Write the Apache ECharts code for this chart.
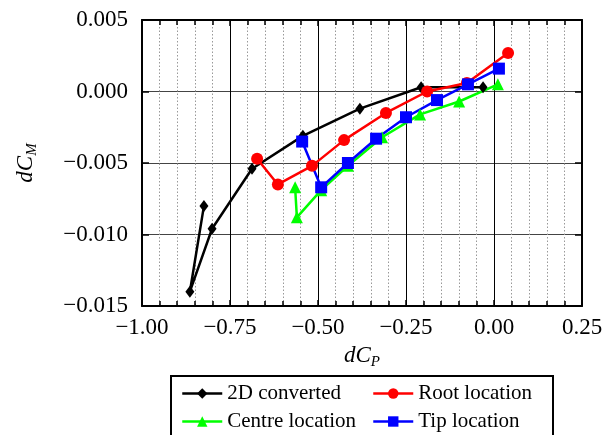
<!DOCTYPE html>
<html>
<head>
<meta charset="utf-8">
<script src="https://cdn.jsdelivr.net/npm/echarts@6/dist/echarts.min.js"></script>
<style>html,body{margin:0;padding:0;background:#fff}#c{width:616px;height:435px}</style>
</head>
<body>
<div id="c"></div>
<script>
// Data
const names = ['2D converted', 'Root location', 'Centre location', 'Tip location'];
const conv2dX = [-0.824, -0.864, -0.801, -0.6875, -0.543, -0.381, -0.207, -0.031];
const conv2dY = [-0.0080, -0.0140, -0.0096, -0.0054, -0.0031, -0.0012, 0.0003, 0.0003];
const rootX = [-0.673, -0.614, -0.517, -0.426, -0.307, -0.190, -0.077, 0.040];
const rootY = [-0.0047, -0.0065, -0.0052, -0.0034, -0.0015, 0.0000, 0.0006, 0.0027];
const centreX = [-0.565, -0.560, -0.491, -0.415, -0.318, -0.210, -0.099, 0.011];
const centreY = [-0.0067, -0.0088, -0.0069, -0.0052, -0.0032, -0.0016, -0.0007, 0.0005];
const tipX = [-0.545, -0.491, -0.415, -0.335, -0.250, -0.162, -0.074, 0.014];
const tipY = [-0.0035, -0.0067, -0.0050, -0.0033, -0.0018, -0.0006, 0.0005, 0.0016];
const xTicks = [-1.0, -0.75, -0.5, -0.25, 0.0, 0.25];
const yTicks = [-0.015, -0.010, -0.005, 0.000, 0.005];

const zip = (xs, ys) => xs.map((x, i) => [x, ys[i]]);
const fmt = (v, d) => (v < 0 ? '\u2212' : '') + Math.abs(v).toFixed(d);
const FONT = 'Liberation Serif';

const chart = echarts.init(document.getElementById('c'), null, {renderer: 'canvas'});
const axisLine = {show: true, onZero: false, lineStyle: {color: '#000', width: 2}};
const subRich = {
  i: {fontFamily: FONT, fontStyle: 'italic', fontSize: 23, lineHeight: 26, verticalAlign: 'top', color: '#000'},
  s: {fontFamily: FONT, fontStyle: 'italic', fontSize: 15, lineHeight: 16, padding: [11, 0, 0, 0], verticalAlign: 'top', color: '#000'}
};
const xBase = {
  type: 'value', min: xTicks[0], max: xTicks[xTicks.length - 1], interval: 0.25,
  axisLine: axisLine,
  axisTick: {show: true, inside: true, length: 6, lineStyle: {color: '#000', width: 1.5}},
  minorTick: {show: true, splitNumber: 5, length: 5, lineStyle: {color: '#000', width: 1.5}}
};
const yBase = {
  type: 'value', min: yTicks[0], max: yTicks[yTicks.length - 1], interval: 0.005,
  axisLine: axisLine,
  axisTick: {show: true, inside: true, length: 7, lineStyle: {color: '#000', width: 1.5}}
};

function mk(name, xs, ys, color, symbol, size) {
  return {
    name: name, type: 'line', data: zip(xs, ys), xAxisIndex: 0, yAxisIndex: 0,
    color: color, symbol: symbol, symbolSize: size, showSymbol: true,
    lineStyle: {color: color, width: 2.5}, itemStyle: {color: color},
    animation: false
  };
}

const legendBase = {
  orient: 'vertical', top: 378, height: 120, itemGap: 7,
  itemWidth: 40, itemHeight: 13,
  lineStyle: {width: 2.5},
  textStyle: {fontFamily: FONT, fontSize: 21, color: '#000'}
};

chart.setOption({
  animation: false,
  backgroundColor: '#fff',
  grid: {left: 142, top: 20, right: 34, bottom: 129, containLabel: false},
  xAxis: [
    Object.assign({}, xBase, {
      position: 'bottom',
      name: '{i|dC}{s|P}', nameLocation: 'middle', nameGap: 38,
      nameTextStyle: {rich: subRich},
      axisLabel: {show: true, margin: 10, fontFamily: FONT, fontSize: 23, color: '#000',
        formatter: v => fmt(v, 2)},
      splitLine: {show: true, lineStyle: {color: '#000', width: 1}},
      minorSplitLine: {show: true, lineStyle: {color: '#999', width: 1, type: [1.5, 2]}}
    }),
    Object.assign({}, xBase, {
      position: 'top', axisLabel: {show: false}, splitLine: {show: false}
    })
  ],
  yAxis: [
    Object.assign({}, yBase, {
      position: 'left',
      name: '{i|dC}{s|M}', nameLocation: 'middle', nameGap: 102, nameRotate: 90,
      nameTextStyle: {rich: subRich},
      axisLabel: {show: true, margin: 14, fontFamily: FONT, fontSize: 23, color: '#000',
        formatter: v => fmt(v, 3)},
      splitLine: {show: true, lineStyle: {color: '#444', width: 1}}
    }),
    Object.assign({}, yBase, {
      position: 'right', axisLabel: {show: false}, splitLine: {show: false}
    })
  ],
  legend: [
    Object.assign({}, legendBase, {data: [names[0], names[2]], left: 176}),
    Object.assign({}, legendBase, {data: [names[1], names[3]], left: 367})
  ],
  graphic: [
    {type: 'rect', shape: {x: 171, y: 376, width: 382, height: 70},
      style: {fill: 'none', stroke: '#000', lineWidth: 2}, silent: true, z: 100}
  ],
  series: [
    mk(names[0], conv2dX, conv2dY, '#000000', 'diamond', [9, 12]),
    mk(names[1], rootX, rootY, '#ff0000', 'circle', 12),
    mk(names[2], centreX, centreY, '#00ff00', 'triangle', 12),
    mk(names[3], tipX, tipY, '#0000ff', 'rect', 12)
  ]
});
</script>
</body>
</html>
